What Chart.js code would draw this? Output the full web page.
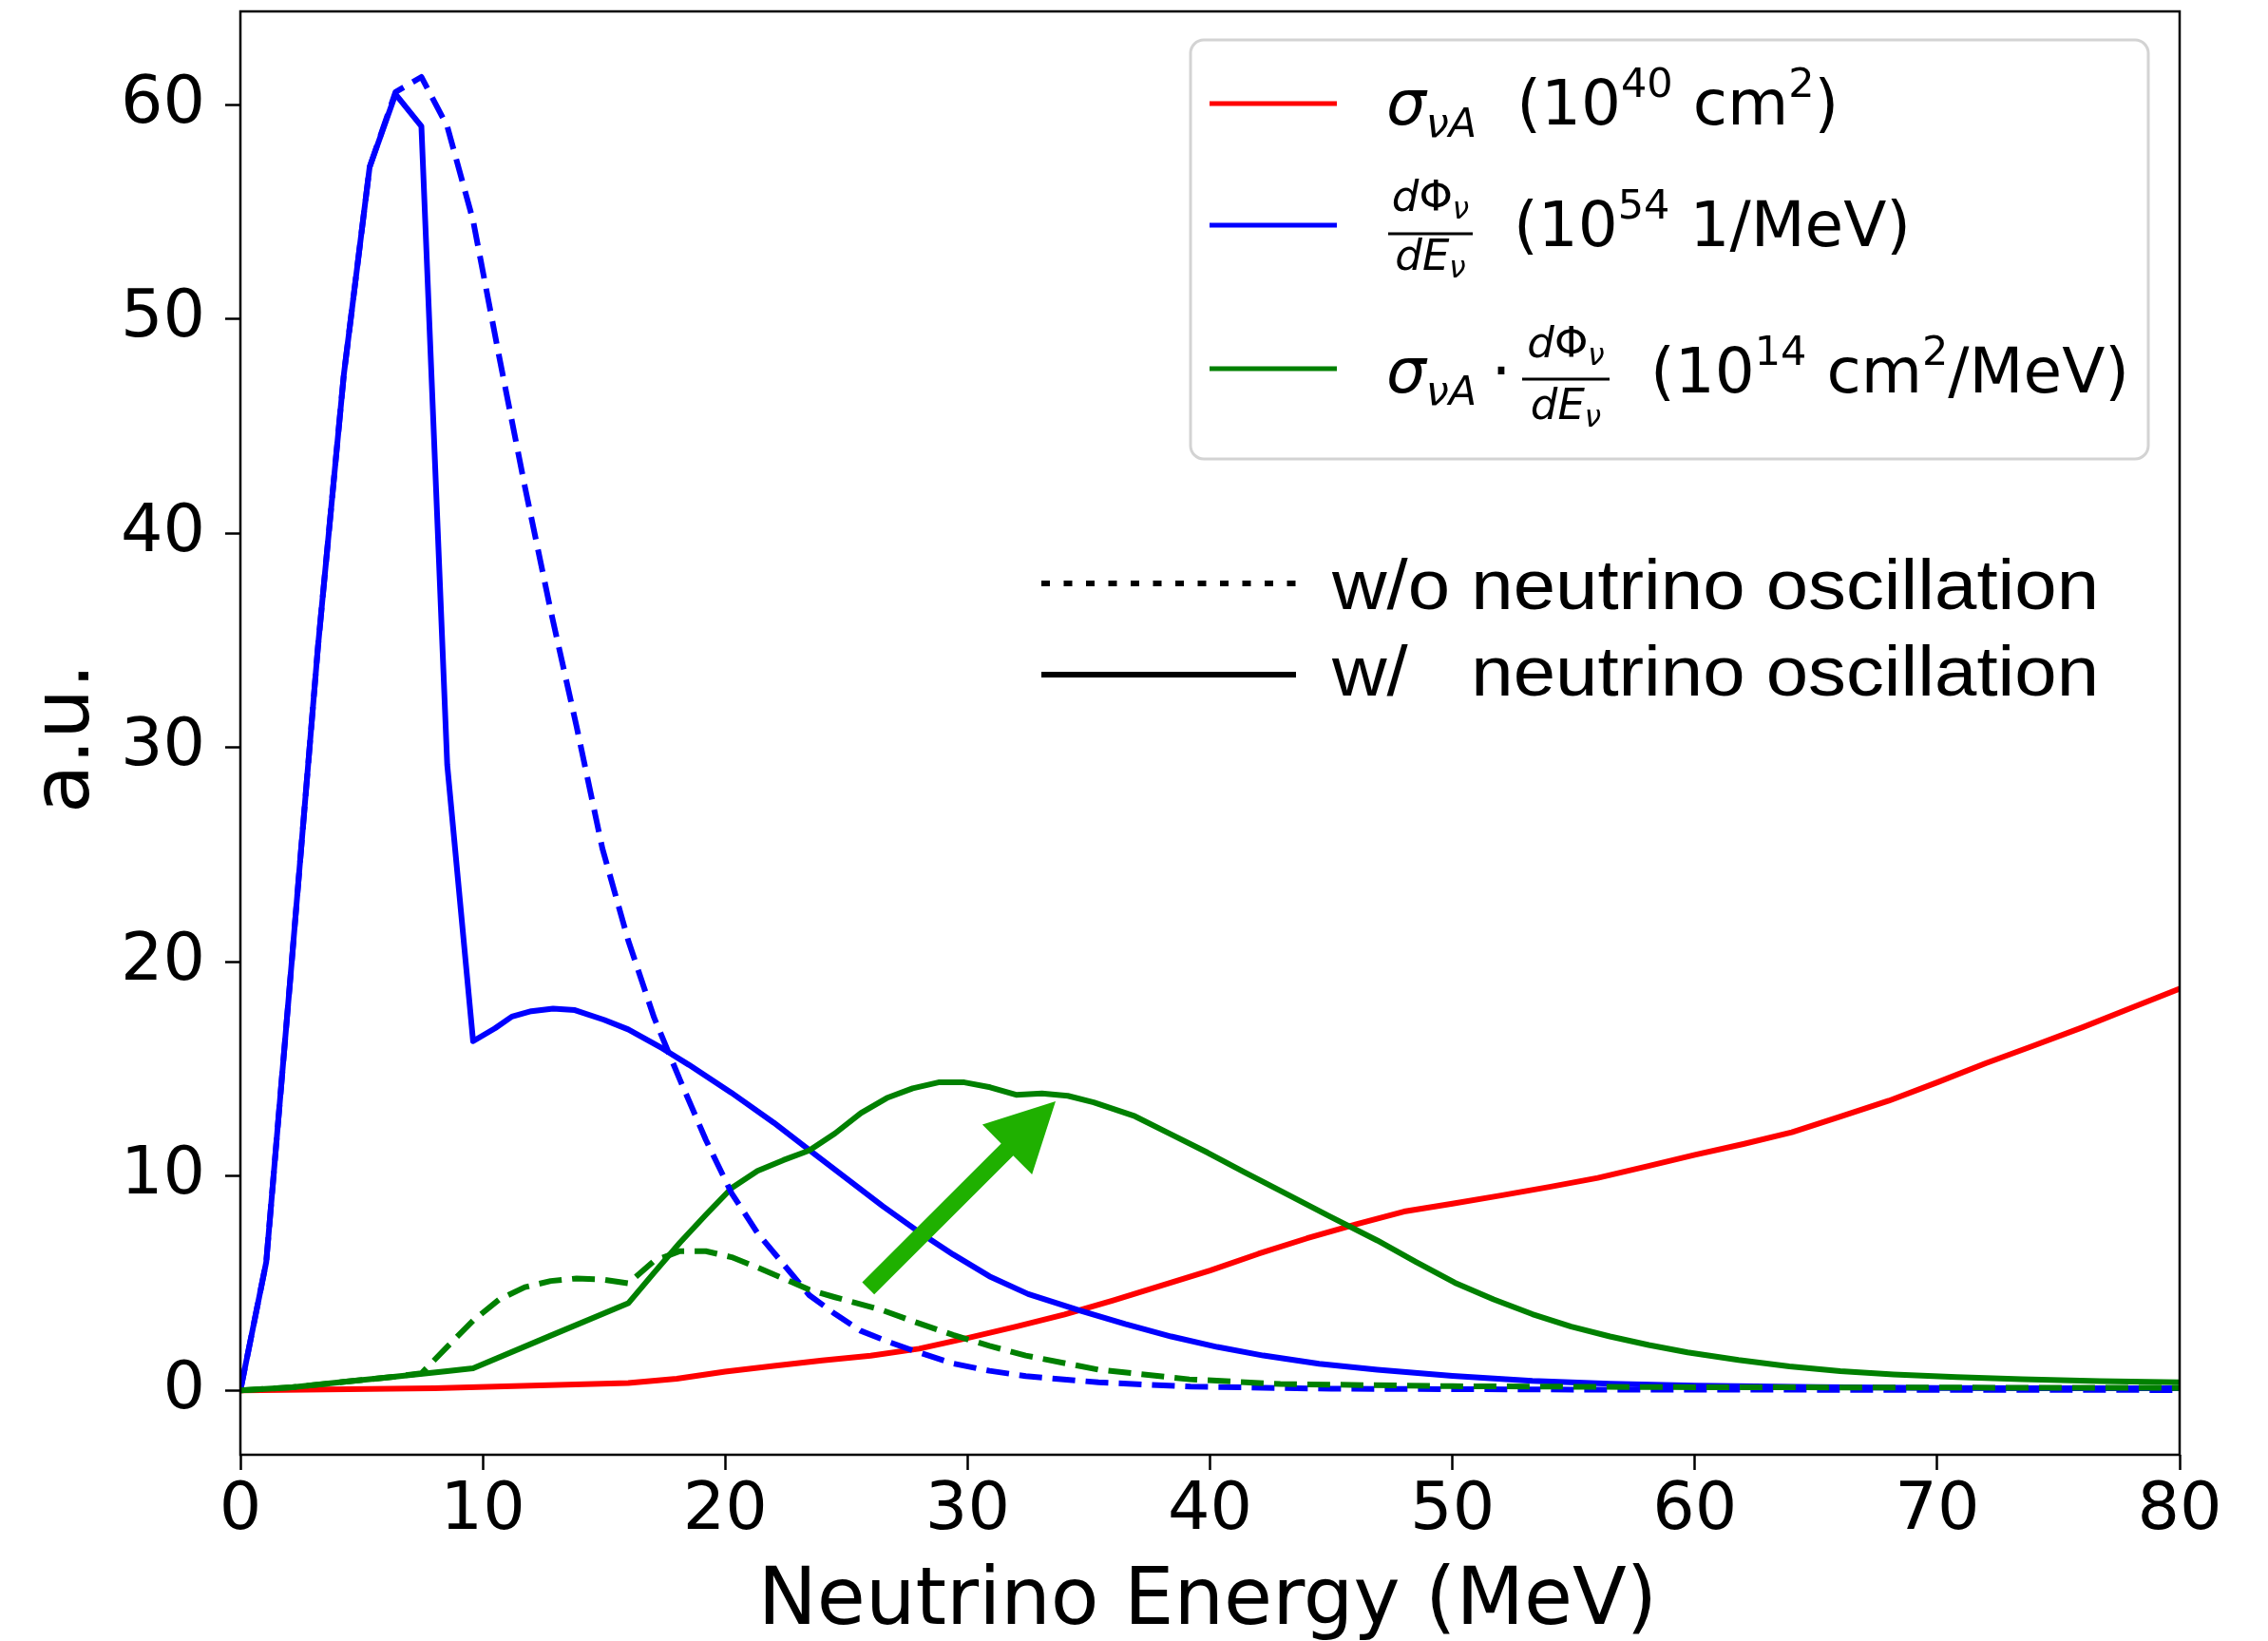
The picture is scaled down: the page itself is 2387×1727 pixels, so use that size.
<!DOCTYPE html>
<html>
<head>
<meta charset="utf-8">
<script src="https://cdn.jsdelivr.net/npm/chart.js@4.4.1/dist/chart.umd.min.js"></script>
<style>
  html, body { margin: 0; padding: 0; background: #ffffff; overflow: hidden; }
  canvas { display: block; }
</style>
</head>
<body>
<canvas id="chart" width="2387" height="1727"></canvas>
<script>
// Neutrino energy grid points (MeV) and curve values (a.u.)

// Cross section sigma_vA (1e40 cm^2)
const sigmaE = [0, 8, 16, 18, 20, 22, 24, 26, 28, 30, 32, 34, 36, 38, 40, 42, 44, 46, 48, 50, 52, 54, 56, 58, 60, 62, 64, 66, 68, 70, 72, 74, 76, 78, 80];
const sigmaV = [0, 0.1, 0.35, 0.55, 0.88, 1.15, 1.4, 1.62, 1.95, 2.45, 2.98, 3.55, 4.2, 4.9, 5.6, 6.38, 7.1, 7.75, 8.35, 8.72, 9.1, 9.5, 9.92, 10.45, 11.0, 11.5, 12.05, 12.78, 13.52, 14.38, 15.27, 16.1, 16.95, 17.85, 18.75];

// Flux dPhi/dE (1e54 1/MeV), with oscillation
const fluxOscE = [0, 1.067, 2.133, 3.2, 4.267, 5.333, 6.4, 7.467, 8.533, 9.6, 10.5, 11.2, 12.0, 12.9, 13.8, 15.0, 16.0, 17.4, 18.5, 20.25, 22.0, 23.5, 25.0, 26.5, 27.9, 29.4, 30.9, 32.5, 34.65, 36.5, 38.4, 40.3, 42.2, 44.5, 46.9, 50.0, 53.3, 56.5, 60, 65, 70, 75, 80];
const fluxOscV = [0, 6.0, 20.2, 34.7, 47.4, 57.1, 60.5, 59.0, 29.2, 16.3, 16.9, 17.45, 17.7, 17.82, 17.75, 17.3, 16.85, 15.97, 15.2, 13.9, 12.5, 11.2, 9.9, 8.6, 7.47, 6.35, 5.33, 4.5, 3.72, 3.1, 2.52, 2.03, 1.63, 1.25, 0.97, 0.68, 0.45, 0.32, 0.23, 0.16, 0.12, 0.1, 0.1];

// Flux dPhi/dE, without oscillation
const fluxNoOscE = [0, 1.067, 2.133, 3.2, 4.267, 5.333, 6.4, 7.467, 8.533, 9.6, 10.667, 11.733, 12.8, 13.867, 14.933, 16.0, 17.067, 18.133, 19.2, 20.267, 21.333, 22.4, 23.467, 24.533, 25.6, 26.667, 27.733, 29.4, 30.9, 32.4, 35.4, 39.2, 45, 55, 80];
const fluxNoOscV = [0, 6.0, 20.2, 34.7, 47.4, 57.1, 60.6, 61.3, 59.0, 54.6, 48.3, 42.2, 36.4, 31.0, 25.3, 21.0, 17.4, 14.5, 11.7, 9.2, 7.35, 5.9, 4.45, 3.57, 2.78, 2.3, 1.87, 1.26, 0.92, 0.67, 0.38, 0.18, 0.08, 0.04, 0.02];

// Event rate sigma * dPhi/dE (1e14 cm^2/MeV), with oscillation
const rateOscE = [0, 2.133, 4.267, 6.4, 8.533, 9.6, 12.8, 16.0, 17.067, 18.133, 19.2, 20.267, 21.333, 22.4, 23.467, 24.533, 25.6, 26.667, 27.733, 28.8, 29.867, 30.933, 32.0, 33.067, 34.133, 35.2, 36.9, 38.4, 39.9, 41.4, 42.9, 44.9, 46.9, 48.5, 50.1, 51.7, 53.3, 54.9, 56.5, 58.1, 59.7, 61.8, 63.9, 66, 68.2, 70.8, 73.5, 76.7, 80];
const rateOscV = [0, 0.15, 0.4, 0.65, 0.9, 1.04, 2.56, 4.07, 5.5, 6.9, 8.2, 9.45, 10.25, 10.75, 11.2, 12.0, 12.95, 13.65, 14.1, 14.38, 14.38, 14.15, 13.8, 13.86, 13.75, 13.45, 12.8, 11.95, 11.1, 10.2, 9.32, 8.15, 7.0, 6.0, 5.03, 4.25, 3.56, 2.98, 2.52, 2.12, 1.78, 1.42, 1.12, 0.9, 0.75, 0.62, 0.52, 0.44, 0.38];

// Event rate, without oscillation
const rateNoOscE = [0, 2.133, 4.267, 6.4, 7.467, 8.533, 9.6, 10.667, 11.733, 12.8, 13.867, 14.933, 16.0, 17.067, 18.133, 19.2, 20.267, 21.333, 22.4, 23.467, 24.533, 26.4, 27.9, 29.4, 30.9, 32.4, 35.4, 39.15, 42.9, 50, 60, 80];
const rateNoOscV = [0, 0.15, 0.4, 0.65, 0.8, 2.04, 3.26, 4.24, 4.82, 5.11, 5.23, 5.18, 5.0, 6.05, 6.5, 6.5, 6.22, 5.74, 5.23, 4.7, 4.35, 3.78, 3.17, 2.59, 2.08, 1.63, 0.97, 0.52, 0.3, 0.2, 0.15, 0.12];

// Axis ticks
const xTicks = [0, 10, 20, 30, 40, 50, 60, 70, 80];
const yTicks = [0, 10, 20, 30, 40, 50, 60];

// Arrow showing the shift of the event-rate peak (data coordinates)
const arrowFrom = [25.9, 4.77];
const arrowTo = [33.63, 13.5];

const RED = '#ff0000', BLUE = '#0000ff', GREEN = '#008000', ARROW_GREEN = '#1fb000';
const LW = 6;
const DASH = [24, 11];

function pts(xs, ys) { return xs.map((x, i) => ({ x: x, y: ys[i] })); }

function series(label, xs, ys, color, dashed, order) {
  return {
    label: label,
    data: pts(xs, ys),
    borderColor: color,
    borderWidth: LW,
    borderDash: dashed ? DASH : [],
    borderJoinStyle: 'round',
    borderCapStyle: 'butt',
    pointRadius: 0,
    tension: 0,
    fill: false,
    order: order
  };
}

const MATH = '"DejaVu Sans"';
const FS = 66, FS_SUB = 43, FS_FRAC = 45, FS_FRAC_SUB = 31;

// draws a sequence of text runs (mathtext-like); returns end x
function runs(ctx, x, base, list) {
  for (const r of list) {
    ctx.font = (r.it ? 'italic ' : '') + r.s + 'px ' + MATH;
    ctx.fillText(r.t, x, base + (r.dy || 0));
    x += ctx.measureText(r.t).width;
  }
  return x;
}
function runsWidth(ctx, list) {
  let w = 0;
  for (const r of list) {
    ctx.font = (r.it ? 'italic ' : '') + r.s + 'px ' + MATH;
    w += ctx.measureText(r.t).width;
  }
  return w;
}
// fraction dPhi_v / dE_v with bar from x0 to x1
function fraction(ctx, x0, x1, barY, numBase, denBase) {
  const num = [{ t: 'd', s: FS_FRAC, it: true }, { t: 'Φ', s: FS_FRAC }, { t: 'ν', s: FS_FRAC_SUB, it: true, dy: 8 }];
  const den = [{ t: 'd', s: FS_FRAC, it: true }, { t: 'E', s: FS_FRAC, it: true }, { t: 'ν', s: FS_FRAC_SUB, it: true, dy: 8 }];
  const cx = (x0 + x1) / 2;
  runs(ctx, cx - runsWidth(ctx, num) / 2, numBase, num);
  runs(ctx, cx - runsWidth(ctx, den) / 2, denBase, den);
  ctx.fillRect(x0, barY - 1.5, x1 - x0, 3);
}

const bgPlugin = {
  id: 'bg',
  beforeDraw(chart) {
    const c = chart.ctx;
    c.save();
    c.fillStyle = '#ffffff';
    c.fillRect(0, 0, chart.width, chart.height);
    c.restore();
  }
};

const decorPlugin = {
  id: 'decor',
  afterDatasetsDraw(chart) {
    const c = chart.ctx;
    const a = chart.chartArea;
    const xs = chart.scales.x, ys = chart.scales.y;

    // arrow
    c.save();
    const x0 = xs.getPixelForValue(arrowFrom[0]), y0 = ys.getPixelForValue(arrowFrom[1]);
    const x1 = xs.getPixelForValue(arrowTo[0]), y1 = ys.getPixelForValue(arrowTo[1]);
    const ang = Math.atan2(y1 - y0, x1 - x0);
    const len = Math.hypot(x1 - x0, y1 - y0);
    const headL = 72, headW = 37, shaftW = 9;
    c.translate(x0, y0);
    c.rotate(ang);
    c.beginPath();
    c.moveTo(0, -shaftW);
    c.lineTo(len - headL, -shaftW);
    c.lineTo(len - headL, -headW);
    c.lineTo(len, 0);
    c.lineTo(len - headL, headW);
    c.lineTo(len - headL, shaftW);
    c.lineTo(0, shaftW);
    c.closePath();
    c.fillStyle = ARROW_GREEN;
    c.fill();
    c.restore();

    // frame
    c.save();
    c.strokeStyle = '#000000';
    c.lineWidth = 2.5;
    c.strokeRect(a.left, a.top, a.right - a.left, a.bottom - a.top);
    c.restore();
  },
  afterDraw(chart) {
    const c = chart.ctx;
    c.save();

    // legend box
    const bx = 1253, by = 42, bw = 1008, bh = 441, r = 14;
    c.beginPath();
    c.moveTo(bx + r, by);
    c.arcTo(bx + bw, by, bx + bw, by + bh, r);
    c.arcTo(bx + bw, by + bh, bx, by + bh, r);
    c.arcTo(bx, by + bh, bx, by, r);
    c.arcTo(bx, by, bx + bw, by, r);
    c.closePath();
    c.fillStyle = 'rgba(255,255,255,0.85)';
    c.fill();
    c.strokeStyle = '#d3d3d3';
    c.lineWidth = 3;
    c.stroke();

    // legend line samples
    c.lineWidth = 5;
    c.lineCap = 'butt';
    [[RED, 109], [BLUE, 237], [GREEN, 388]].forEach(([col, y]) => {
      c.strokeStyle = col;
      c.beginPath();
      c.moveTo(1273, y);
      c.lineTo(1407, y);
      c.stroke();
    });

    // legend labels
    c.fillStyle = '#000000';
    c.textBaseline = 'alphabetic';
    c.textAlign = 'left';
    // row 1
    runs(c, 1459, 131, [
      { t: 'σ', s: FS, it: true }, { t: 'νA', s: FS_SUB, it: true, dy: 13 },
      { t: '  (10', s: FS }, { t: '40', s: FS_SUB, dy: -29 },
      { t: ' cm', s: FS }, { t: '2', s: FS_SUB, dy: -29 }, { t: ')', s: FS }
    ]);
    // row 2
    fraction(c, 1461, 1550, 246, 222, 284);
    runs(c, 1593, 259, [
      { t: '(10', s: FS }, { t: '54', s: FS_SUB, dy: -29 }, { t: ' 1/MeV)', s: FS }
    ]);
    // row 3
    runs(c, 1459, 413, [{ t: 'σ', s: FS, it: true }, { t: 'νA', s: FS_SUB, it: true, dy: 13 }]);
    c.font = FS + 'px ' + MATH;
    c.textAlign = 'center';
    c.fillText('·', 1580, 413);
    c.textAlign = 'left';
    fraction(c, 1602, 1694, 399, 376, 441);
    runs(c, 1737, 413, [
      { t: '(10', s: FS }, { t: '14', s: FS_SUB, dy: -29 },
      { t: ' cm', s: FS }, { t: '2', s: FS_SUB, dy: -29 }, { t: '/MeV)', s: FS }
    ]);

    // line-style key
    c.strokeStyle = '#000000';
    c.lineWidth = 6;
    c.setLineDash([9, 14.5]);
    c.beginPath();
    c.moveTo(1096, 614);
    c.lineTo(1364, 614);
    c.stroke();
    c.setLineDash([]);
    c.beginPath();
    c.moveTo(1096, 710);
    c.lineTo(1364, 710);
    c.stroke();

    c.font = '74px "Liberation Sans"';
    const t1 = 'w/o neutrino oscillation';
    const sx = 807 / c.measureText(t1).width;
    c.save();
    c.translate(1402, 641); c.scale(sx, 1); c.fillText(t1, 0, 0);
    c.restore();
    c.save();
    c.translate(1402, 732); c.scale(sx, 1); c.fillText('w/', 0, 0);
    c.restore();
    const t2 = 'neutrino oscillation';
    const w2 = c.measureText(t2).width * sx;
    c.save();
    c.translate(2209 - w2, 732); c.scale(sx, 1); c.fillText(t2, 0, 0);
    c.restore();

    // axis titles
    c.font = '83px "DejaVu Sans"';
    c.textAlign = 'center';
    c.fillText('Neutrino Energy (MeV)', 1271, 1709);
    c.save();
    c.translate(93, 777);
    c.rotate(-Math.PI / 2);
    c.font = '84px "DejaVu Sans"';
    c.fillText('a.u.', 0, 0);
    c.restore();

    c.restore();
  }
};

const tickFont = { family: 'DejaVu Sans', size: 70 };

function noPad(s) { s.paddingTop = 0; s.paddingBottom = 0; s.paddingLeft = 0; s.paddingRight = 0; }

new Chart(document.getElementById('chart').getContext('2d'), {
  type: 'line',
  data: {
    datasets: [
      series('sigma', sigmaE, sigmaV, RED, false, 5),
      series('flux osc', fluxOscE, fluxOscV, BLUE, false, 4),
      series('rate osc', rateOscE, rateOscV, GREEN, false, 3),
      series('flux no osc', fluxNoOscE, fluxNoOscV, BLUE, true, 2),
      series('rate no osc', rateNoOscE, rateNoOscV, GREEN, true, 1)
    ]
  },
  options: {
    responsive: false,
    animation: false,
    devicePixelRatio: 1,
    layout: { padding: { left: 0, right: 93, top: 12, bottom: 0 } },
    plugins: { legend: { display: false }, tooltip: { enabled: false }, title: { display: false } },
    scales: {
      x: {
        type: 'linear', min: 0, max: 80,
        afterFit(s) { s.height = 196; noPad(s); },
        afterBuildTicks(s) { s.ticks = xTicks.map(v => ({ value: v })); },
        border: { display: false },
        grid: { drawOnChartArea: false, drawTicks: true, tickLength: 16, tickWidth: 2.5, tickColor: '#000000' },
        ticks: { font: tickFont, color: '#000000', padding: 2, maxRotation: 0, autoSkip: false }
      },
      y: {
        type: 'linear', min: -3.0, max: 64.36,
        afterFit(s) { s.width = 253; noPad(s); },
        afterBuildTicks(s) { s.ticks = yTicks.map(v => ({ value: v })); },
        border: { display: false },
        grid: { drawOnChartArea: false, drawTicks: true, tickLength: 16, tickWidth: 2.5, tickColor: '#000000' },
        ticks: { font: tickFont, color: '#000000', padding: 21, autoSkip: false }
      }
    }
  },
  plugins: [bgPlugin, decorPlugin]
});
</script>
</body>
</html>
